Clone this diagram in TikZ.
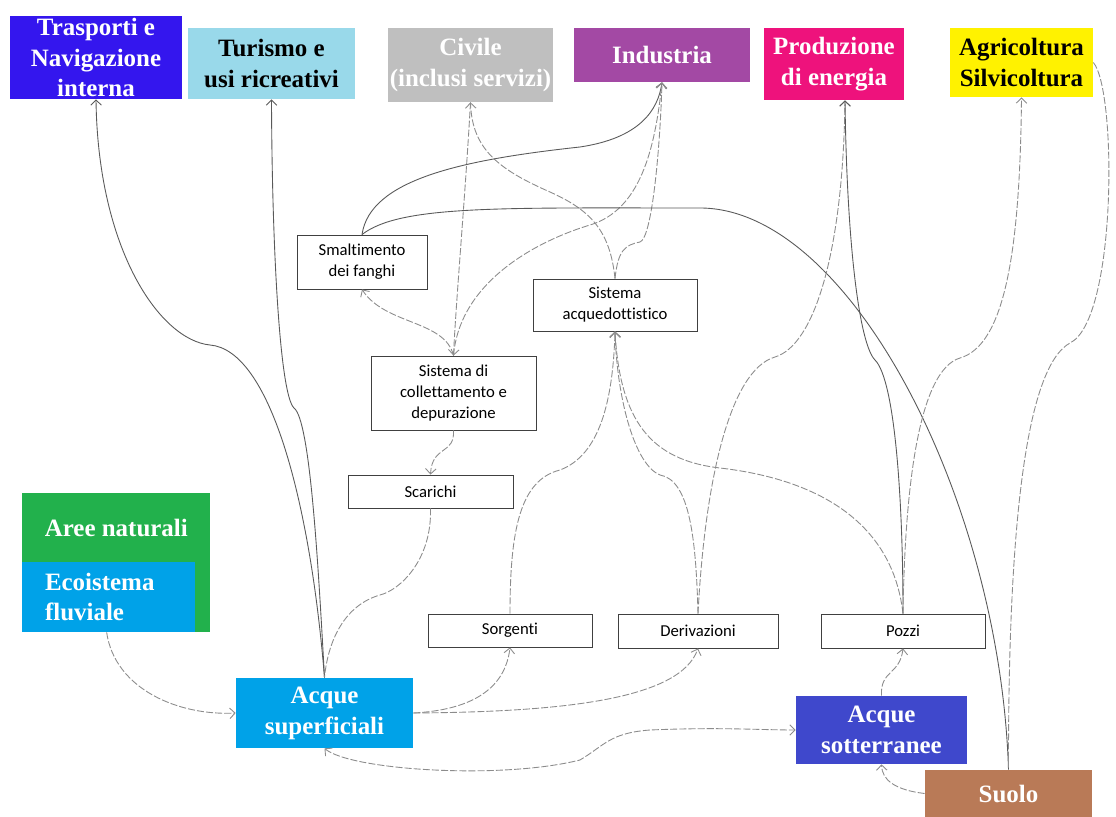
\documentclass[tikz,border=0pt]{standalone}
\usepackage{fontspec}
\usetikzlibrary{arrows.meta}
\newfontfamily\labelserif{Liberation Serif}
\newfontfamily\labelsans{Carlito}[Ligatures=NoCommon]

\definecolor{trasporti}{RGB}{52,22,238}
\definecolor{turismo}{RGB}{153,217,234}
\definecolor{civile}{RGB}{191,191,191}
\definecolor{industria}{RGB}{163,73,164}
\definecolor{energia}{RGB}{238,18,124}
\definecolor{agricoltura}{RGB}{255,242,0}
\definecolor{aree}{RGB}{34,177,76}
\definecolor{fiume}{RGB}{0,162,232}
\definecolor{falda}{RGB}{63,72,204}
\definecolor{suolo}{RGB}{185,122,87}

\begin{document}
\begin{tikzpicture}[
    x = 0.02cm,
    y = -0.02cm,
    bigbox/.style = {rectangle, inner sep=0pt, align=center, text=white,
      font=\labelserif\bfseries\fontsize{14.2}{17.6}\selectfont},
    smallbox/.style = {rectangle, draw=black!75, line width=0.5pt, inner sep=0pt,
      align=center, font=\labelsans\fontsize{9.5}{11.9}\selectfont},
    flow/.style = {draw=black!65, line width=0.5pt,
      -{Straight Barb[length=3pt, width=6pt]}},
    dflow/.style = {flow, draw=black!45, dash pattern=on 4pt off 1.2pt},
    ]
    \useasboundingbox[fill=white] (0,0) rectangle (1116,817);
    % uses
    \node[bigbox, fill=trasporti, minimum width=3.44cm, minimum height=1.66cm]
    (trasp) at (96,57.5) {Trasporti e\\Navigazione\\interna};
    \node[bigbox, fill=turismo, text=black, minimum width=3.34cm, minimum height=1.42cm]
    (turismo) at (271.5,63.5) {Turismo e\\usi ricreativi};
    \node[bigbox, fill=civile, minimum width=3.3cm, minimum height=1.48cm]
    (civile) at (470.5,65) {Civile\\(inclusi servizi)};
    \node[bigbox, fill=industria, minimum width=3.52cm, minimum height=1.08cm]
    (industria) at (662,55) {Industria};
    \node[bigbox, fill=energia, minimum width=2.8cm, minimum height=1.44cm]
    (energia) at (834,64) {Produzione\\di energia};
    \node[bigbox, fill=agricoltura, text=black, minimum width=2.86cm, minimum height=1.38cm]
    (agri) at (1021.5,62.5) {Agricoltura\\Silvicoltura};
    % natural areas
    \fill[aree] (22,493) rectangle (210,632);
    \node[bigbox, minimum width=3.76cm, minimum height=1.38cm, anchor=north west]
    (aree) at (22,493) {Aree naturali};
    \node[bigbox, fill=fiume, minimum width=3.46cm, minimum height=1.4cm,
      text width=2.54cm, align=left]
    (eco) at (108.5,597) {Ecoistema\\fluviale};
    % water bodies
    \node[bigbox, fill=fiume, minimum width=3.54cm, minimum height=1.4cm]
    (acqsup) at (324.5,713) {Acque\\superficiali};
    \node[bigbox, fill=falda, minimum width=3.42cm, minimum height=1.36cm]
    (acqsott) at (881.5,730) {Acque\\sotterranee};
    \node[bigbox, fill=suolo, minimum width=3.34cm, minimum height=0.94cm]
    (suolo) at (1008.5,793.5) {Suolo};
    % systems
    \node[smallbox, minimum width=2.6cm, minimum height=1.08cm]
    (fanghi) at (362,262) {Smaltimento\\dei fanghi};
    \node[smallbox, minimum width=3.28cm, minimum height=1.04cm]
    (acquedotto) at (615,305) {Sistema\\acquedottistico};
    \node[smallbox, minimum width=3.3cm, minimum height=1.48cm]
    (depur) at (453.5,393) {Sistema di\\collettamento e\\depurazione};
    \node[smallbox, minimum width=3.3cm, minimum height=0.66cm]
    (scarichi) at (430.5,491.5) {Scarichi};
    \node[smallbox, minimum width=3.28cm, minimum height=0.66cm]
    (sorgenti) at (510,630.5) {Sorgenti};
    \node[smallbox, minimum width=3.2cm, minimum height=0.68cm]
    (derivaz) at (698,631) {Derivazioni};
    \node[smallbox, minimum width=3.28cm, minimum height=0.68cm]
    (pozzi) at (903,631) {Pozzi};
    % surface water to uses
    \draw[flow] (acqsup.north) .. controls (310,500) and (270,350) .. (210,345)
    .. controls (160,340) and (98,250) .. (trasp.south);
    \draw[flow] (acqsup.north) .. controls (318,560) and (310,420) .. (294,408)
    .. controls (280,395) and (272,250) .. (turismo.south);
    \draw[dflow, -] (scarichi.south) .. controls (432,560) and (400,590) .. (380,595)
    .. controls (345,605) and (328,640) .. (acqsup.north);
    % sewage
    \draw[dflow] (depur.south) .. controls (455,455) and (432,445) .. (scarichi.north);
    \draw[dflow] (depur.north) .. controls (445,320) and (385,325) .. (fanghi.south);
    \draw[dflow] (civile.south) .. controls (465,200) and (456,300) .. (depur.north);
    \draw[dflow] (acquedotto.north) .. controls (610,230) and (590,210) .. (550,192)
    .. controls (500,170) and (472,150) .. (civile.south);
    % industry
    \draw[flow] (fanghi.north) .. controls (370,180) and (460,160) .. (580,147)
    .. controls (640,138) and (658,110) .. (industria.south);
    \draw[dflow] (depur.north) .. controls (460,280) and (540,240) .. (590,225)
    .. controls (640,210) and (655,150) .. (industria.south);
    \draw[dflow] (acquedotto.north) .. controls (618,250) and (625,245) .. (640,242)
    .. controls (652,238) and (660,150) .. (industria.south);
    \draw[flow, -] (fanghi.north) .. controls (400,205) and (500,208) .. (700,208)
    .. controls (850,208) and (1000,500) .. (suolo.north);
    % supply
    \draw[dflow] (sorgenti.north) .. controls (510,530) and (520,480) .. (560,470)
    .. controls (600,455) and (613,400) .. (acquedotto.south);
    \draw[dflow] (derivaz.north) .. controls (696,540) and (690,480) .. (660,475)
    .. controls (635,465) and (617,400) .. (acquedotto.south);
    \draw[dflow] (pozzi.north) .. controls (890,500) and (780,475) .. (720,468)
    .. controls (650,460) and (620,420) .. (acquedotto.south);
    \draw[dflow] (derivaz.north) .. controls (705,480) and (730,370) .. (775,357)
    .. controls (815,345) and (843,250) .. ([xshift=0.22cm]energia.south);
    \draw[flow] (pozzi.north) .. controls (903,500) and (895,380) .. (875,360)
    .. controls (860,345) and (847,250) .. ([xshift=0.22cm]energia.south);
    \draw[dflow] (pozzi.north) .. controls (905,480) and (920,370) .. (960,358)
    .. controls (1005,345) and (1020,250) .. (agri.south);
    \draw[dflow, -] (agri.east) .. controls (1117,90) and (1117,320) .. (1070,343)
    .. controls (1030,365) and (1008,500) .. (suolo.north);
    % water bodies
    \draw[dflow] ([xshift=1.7cm]eco.south west) .. controls (115,690) and (180,716) .. (acqsup.west);
    \draw[dflow] (acqsup.east) .. controls (470,710) and (505,690) .. (sorgenti.south);
    \draw[dflow] (acqsup.east) .. controls (560,712) and (680,700) .. (derivaz.south);
    \draw[dflow, {Straight Barb[length=3pt, width=6pt]}-{Straight Barb[length=3pt, width=6pt]}]
    (acqsup.south) .. controls (350,770) and (500,780) .. (580,760)
    .. controls (605,745) and (610,733) .. (650,730)
    .. controls (720,727) and (760,730) .. (acqsott.west);
    \draw[dflow] (acqsott.north) .. controls (880,670) and (900,675) .. (pozzi.south);
    \draw[dflow] (suolo.west) .. controls (895,790) and (882,780) .. (acqsott.south);
  \end{tikzpicture}
\end{document}
